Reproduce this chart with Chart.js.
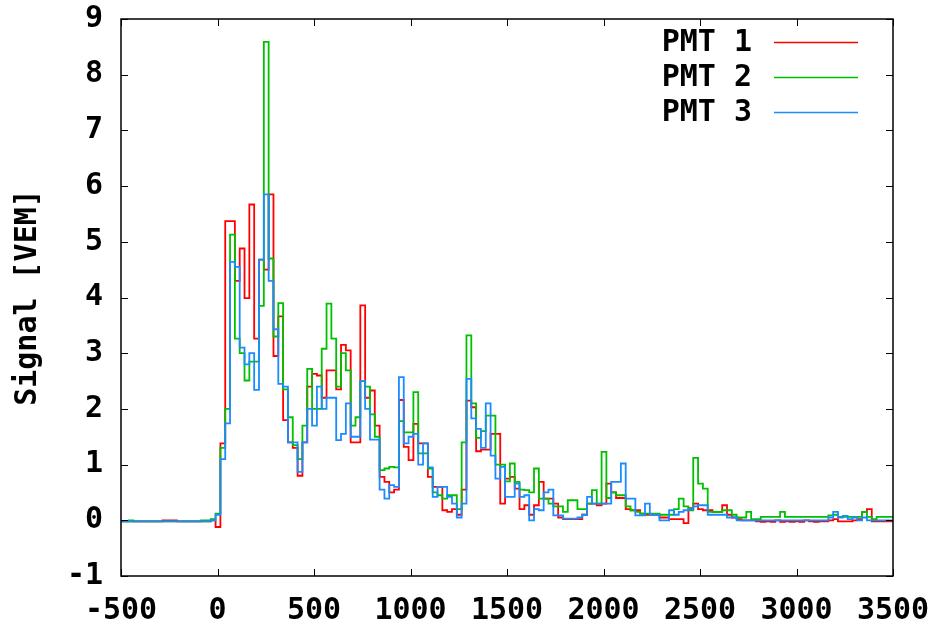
<!DOCTYPE html>
<html>
<head>
<meta charset="utf-8">
<script src="https://cdn.jsdelivr.net/npm/chart.js@4"></script>
<style>
  html, body { margin: 0; padding: 0; background: #fff; }
</style>
</head>
<body>
<canvas id="chart" width="938" height="628"></canvas>
<script>
// FADC trace, 25 ns bins, first bin starts at -510 ns
const binStart = -510;
const binWidth = 25;

const pmt1 = [
  -0.02, -0.02, -0.02, -0.02, -0.02, -0.02, -0.02, -0.02, -0.02, 0.0,
  0.0, 0.0, -0.02, -0.02, -0.02, -0.02, -0.02, -0.02, -0.02, 0.0, -0.12,
  1.38, 5.37, 5.37, 4.3, 4.88, 3.99, 5.67, 3.26, 4.68, 4.5,
  5.85, 2.95, 3.66, 1.8, 1.4, 1.3, 0.8, 1.4, 2.4, 2.63,
  2.6, 2.2, 2.69, 2.69, 2.35, 3.15, 3.05, 1.4, 1.4, 3.86,
  2.2, 2.33, 1.7, 0.78, 0.69, 0.5, 0.55, 2.16, 1.32, 1.08,
  1.73, 1.38, 1.38, 0.78, 0.6, 0.6, 0.18, 0.15, 0.2, 0.1,
  0.55, 2.15, 2.03, 1.24, 1.27, 1.27, 1.55, 1.55, 0.3, 0.75,
  0.78, 0.57, 0.2, 0.27, 0.1, 0.27, 0.69, 0.39, 0.39, 0.3,
  0.05, 0.02, 0.02, 0.02, 0.02, 0.1, 0.3, 0.3, 0.27, 0.3,
  0.66, 0.5, 0.4, 0.4, 0.2, 0.18, 0.18, 0.12, 0.1, 0.1,
  0.1, 0.05, 0.05, 0.02, 0.02, 0.02, -0.05, 0.22, 0.3, 0.2,
  0.18, 0.18, 0.15, 0.15, 0.27, 0.1, 0.05, 0.02, 0.0, 0.0,
  0.0, -0.02, -0.03, -0.02, -0.03, 0.0, -0.03, -0.02, -0.03, -0.02,
  -0.03, 0.0, -0.02, -0.03, -0.02, -0.02, 0.0, 0.02, -0.02, -0.02,
  -0.02, 0.0, 0.02, 0.15, 0.2, -0.02, -0.02, -0.02, -0.02, -0.02
];

const pmt2 = [
  -0.02, -0.02, 0.0, -0.02, -0.02, -0.02, -0.02, -0.02, -0.02, -0.02,
  -0.02, -0.02, -0.02, -0.02, -0.02, -0.02, -0.02, 0.0, 0.0, 0.02, 0.12,
  1.3, 2.0, 5.13, 3.26, 3.0, 2.51, 2.85, 2.85, 3.85, 8.59,
  4.7, 3.3, 3.9, 2.35, 1.85, 1.35, 1.1, 1.7, 2.72, 2.0,
  2.0, 3.08, 3.89, 3.26, 2.4, 3.0, 2.69, 1.7, 1.85, 2.5,
  2.4, 1.9, 1.5, 0.9, 0.93, 0.96, 0.95, 1.78, 1.58, 1.58,
  2.3, 1.2, 1.2, 0.93, 0.5, 0.45, 0.39, 0.45, 0.45, 0.2,
  1.4, 3.32, 2.1, 1.48, 1.6, 1.88, 1.88, 1.0, 1.0, 0.7,
  1.02, 0.69, 0.55, 0.54, 0.5, 0.93, 0.39, 0.39, 0.3, 0.25,
  0.25, 0.15, 0.36, 0.36, 0.2, 0.2, 0.3, 0.54, 0.3, 1.23,
  0.4, 0.5, 0.45, 0.45, 0.25, 0.18, 0.15, 0.12, 0.12, 0.12,
  0.12, 0.1, 0.1, 0.1, 0.2, 0.39, 0.25, 0.18, 1.12, 0.66,
  0.57, 0.15, 0.15, 0.15, 0.18, 0.18, 0.1, 0.05, 0.05, 0.15,
  0.02, 0.02, 0.06, 0.06, 0.06, 0.06, 0.15, 0.06, 0.06, 0.06,
  0.06, 0.06, 0.06, 0.06, 0.06, 0.06, 0.09, 0.1, 0.06, 0.06,
  0.06, 0.06, 0.06, 0.15, 0.06, 0.02, 0.06, 0.06, 0.06, 0.06
];

const pmt3 = [
  -0.02, -0.02, -0.02, -0.02, -0.02, -0.02, -0.02, -0.02, -0.02, -0.02,
  -0.02, -0.02, -0.02, -0.02, -0.02, -0.02, -0.02, -0.02, -0.02, 0.0, 0.1,
  1.1, 1.74, 4.64, 4.55, 3.1, 2.8, 3.0, 2.34, 4.68, 5.85,
  4.3, 3.43, 2.45, 2.4, 1.4, 1.4, 0.87, 1.4, 2.0, 1.7,
  2.4, 2.0, 2.2, 2.2, 1.44, 1.55, 2.1, 1.5, 1.5, 2.5,
  2.0, 1.45, 1.45, 0.55, 0.39, 0.63, 0.6, 2.57, 1.38, 1.5,
  1.55, 1.0, 1.38, 0.95, 0.42, 0.6, 0.6, 0.42, 0.3, 0.05,
  0.3, 2.54, 1.83, 1.64, 1.3, 2.1, 1.16, 0.75, 0.96, 0.42,
  0.42, 0.66, 0.42, 0.45, 0.0, 0.2, 0.18, 0.5, 0.55, 0.09,
  0.09, 0.03, 0.03, 0.03, 0.05, 0.1, 0.42, 0.3, 0.3, 0.3,
  0.3, 0.69, 0.69, 1.02, 0.39, 0.39, 0.09, 0.09, 0.3, 0.1,
  0.1, 0.0, 0.0, 0.18, 0.1, 0.15, 0.18, 0.2, 0.25, 0.27,
  0.27, 0.1, 0.1, 0.1, 0.1, 0.05, 0.05, 0.0, 0.0, 0.0,
  0.0, 0.0, 0.0, 0.0, 0.0, 0.0, 0.0, 0.0, 0.0, 0.0,
  0.0, 0.0, 0.0, 0.0, 0.0, 0.0, 0.05, 0.15, 0.05, 0.08,
  0.02, 0.05, 0.0, 0.05, 0.0, 0.0, 0.0, 0.0, 0.0, 0.0
];

const seriesLabels = ["PMT 1", "PMT 2", "PMT 3"];
const seriesColors = ["#ff0000", "#00c000", "#1a8cff"];
const xTicks = [-500, 0, 500, 1000, 1500, 2000, 2500, 3000, 3500];
const yTicks = [-1, 0, 1, 2, 3, 4, 5, 6, 7, 8, 9];

const font = { family: "DejaVu Sans Mono", size: 30, weight: "bold" };

function toPoints(vals) {
  const pts = vals.map((v, i) => ({ x: binStart + i * binWidth, y: v }));
  pts.push({ x: binStart + vals.length * binWidth, y: vals[vals.length - 1] });
  return pts;
}

// gnuplot style frame with inward ticks on all four sides + legend on the right
const frame = {
  id: "frame",
  afterDatasetsDraw(chart) {
    const { ctx, chartArea: a, scales } = chart;
    const tl = 7;
    ctx.save();
    ctx.strokeStyle = "#000";
    ctx.lineWidth = 1;
    ctx.beginPath();
    xTicks.forEach(v => {
      const x = Math.round(scales.x.getPixelForValue(v)) + 0.5;
      ctx.moveTo(x, a.bottom); ctx.lineTo(x, a.bottom - tl);
      ctx.moveTo(x, a.top); ctx.lineTo(x, a.top + tl);
    });
    yTicks.forEach(v => {
      const y = Math.round(scales.y.getPixelForValue(v)) + 0.5;
      ctx.moveTo(a.left, y); ctx.lineTo(a.left + tl, y);
      ctx.moveTo(a.right, y); ctx.lineTo(a.right - tl, y);
    });
    ctx.stroke();
    ctx.lineWidth = 1.5;
    ctx.strokeRect(a.left, a.top, a.right - a.left, a.bottom - a.top);

    ctx.font = "bold 30px 'DejaVu Sans Mono'";
    ctx.textAlign = "right";
    ctx.textBaseline = "middle";
    chart.data.datasets.forEach((ds, i) => {
      const y = 42 + i * 35;
      ctx.fillStyle = "#000";
      ctx.fillText(ds.label, 752, y + 1);
      ctx.strokeStyle = ds.borderColor;
      ctx.lineWidth = 1.5;
      ctx.beginPath();
      ctx.moveTo(774, y + 0.5);
      ctx.lineTo(858, y + 0.5);
      ctx.stroke();
    });
    ctx.restore();
  }
};

const series = [pmt1, pmt2, pmt3];

new Chart(document.getElementById("chart"), {
  type: "line",
  data: {
    datasets: series.map((vals, i) => ({
      label: seriesLabels[i],
      data: toPoints(vals),
      borderColor: seriesColors[i],
      borderWidth: 1.8,
      pointRadius: 0,
      stepped: "before",
      fill: false,
      order: 3 - i,
    })),
  },
  options: {
    responsive: false,
    animation: false,
    layout: { padding: { top: 19, right: 45, left: 0, bottom: 0 } },
    plugins: { legend: { display: false }, tooltip: { enabled: false } },
    scales: {
      x: {
        type: "linear",
        min: -500,
        max: 3500,
        afterBuildTicks: s => { s.ticks = xTicks.map(v => ({ value: v })); },
        afterFit: s => { s.height = 52; s.paddingLeft = 0; s.paddingRight = 0; },
        ticks: { font, color: "#000", padding: 17, maxRotation: 0, autoSkip: false,
                 callback: v => String(v) },
        grid: { display: false, drawTicks: false },
        border: { display: false },
      },
      y: {
        type: "linear",
        min: -1,
        max: 9,
        afterBuildTicks: s => { s.ticks = yTicks.map(v => ({ value: v })); },
        afterFit: s => { s.width = 121; s.paddingTop = 0; s.paddingBottom = 0; },
        ticks: { font, color: "#000", padding: 18, autoSkip: false,
                 callback: v => String(v) },
        grid: { display: false, drawTicks: false },
        border: { display: false },
        title: { display: true, text: "Signal [VEM]", font, color: "#000",
                 padding: { top: 10, bottom: 0 } },
      },
    },
  },
  plugins: [frame],
});
</script>
</body>
</html>
